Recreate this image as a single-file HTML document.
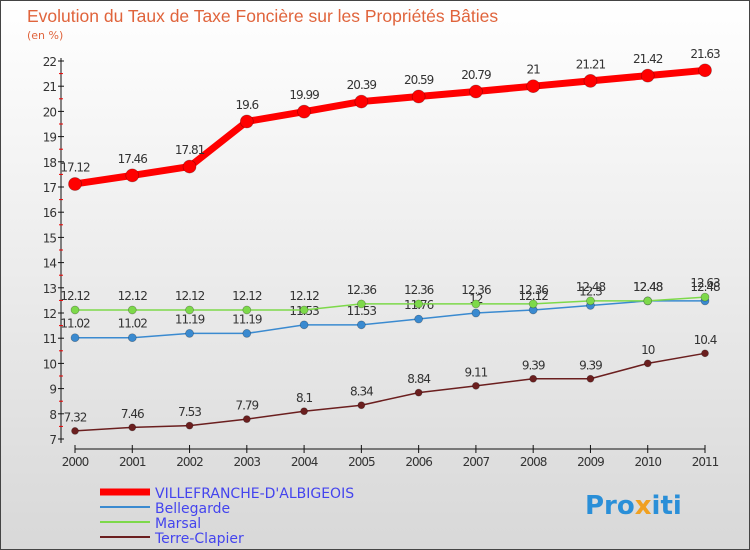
<!DOCTYPE html>
<html><head><meta charset="utf-8"><style>
body{margin:0}
#c{width:750px;height:550px;position:relative;overflow:hidden;font-family:"DejaVu Sans","Liberation Sans",sans-serif}
</style></head><body>
<div id="c">
<svg id="s" width="750" height="550" xmlns="http://www.w3.org/2000/svg">
<defs><linearGradient id="bg" x1="0" y1="0" x2="0" y2="1"><stop offset="0" stop-color="#ffffff"/><stop offset="1" stop-color="#d8d8d8"/></linearGradient></defs>
<rect x="0.5" y="0.5" width="749" height="549" fill="url(#bg)" stroke="#444"/>
<text x="27" y="22" font-size="17.5" fill="#e0643c" font-family="Liberation Sans, sans-serif">Evolution du Taux de Taxe Foncière sur les Propriétés Bâties</text>
<text x="27" y="39" font-size="11" fill="#e0643c">(en %)</text>
<g id="axes"></g><g id="series"></g>
<g>
<line x1="100" y1="492" x2="150" y2="492" stroke="#f00" stroke-width="7"/>
<text x="155" y="498" font-size="14" fill="#4444ee">VILLEFRANCHE-D'ALBIGEOIS</text>
<line x1="100" y1="507" x2="150" y2="507" stroke="#3a8ad0" stroke-width="2"/>
<text x="155" y="513" font-size="14" fill="#4444ee">Bellegarde</text>
<line x1="100" y1="522" x2="150" y2="522" stroke="#7dd94a" stroke-width="2"/>
<text x="155" y="528" font-size="14" fill="#4444ee">Marsal</text>
<line x1="100" y1="537" x2="150" y2="537" stroke="#6b1f1f" stroke-width="2"/>
<text x="155" y="543" font-size="14" fill="#4444ee">Terre-Clapier</text>
</g>
<text x="585" y="514" font-size="26" font-weight="bold" fill="#2a8fd8">Pro<tspan fill="#f0a020">x</tspan>iti</text>
</svg>
<script>
const years=[2000,2001,2002,2003,2004,2005,2006,2007,2008,2009,2010,2011];
const villefranche=[17.12,17.46,17.81,19.6,19.99,20.39,20.59,20.79,21,21.21,21.42,21.63];
const bellegarde=[11.02,11.02,11.19,11.19,11.53,11.53,11.76,12,12.12,12.3,12.48,12.48];
const marsal=[12.12,12.12,12.12,12.12,12.12,12.36,12.36,12.36,12.36,12.48,12.48,12.63];
const terreClapier=[7.32,7.46,7.53,7.79,8.1,8.34,8.84,9.11,9.39,9.39,10,10.4];
const yTicks=[7,8,9,10,11,12,13,14,15,16,17,18,19,20,21,22];
const NS="http://www.w3.org/2000/svg";
const xs=i=>75+i*(630/11);
const ys=v=>439-(v-7)*(378/15);
function mk(tag,attrs,parent){const e=document.createElementNS(NS,tag);for(const k in attrs)e.setAttribute(k,attrs[k]);parent.appendChild(e);return e;}
const ax=document.getElementById('axes');
let a=mk('line',{x1:61,y1:58,x2:61,y2:443,stroke:'#111'},ax);


yTicks.forEach(t=>{
 mk('line',{x1:58,x2:64,y1:ys(t),y2:ys(t),stroke:'#111'},ax);
 if(t<22)mk('line',{x1:59,x2:63,y1:ys(t+0.5),y2:ys(t+0.5),stroke:'#e00'},ax);
 const tx=mk('text',{x:56,y:ys(t)+5,'font-size':12,'text-anchor':'end',fill:'#333','letter-spacing':'-1'},ax);
 tx.textContent=t;
 
 
});
a=mk('line',{x1:75,y1:449,x2:705,y2:449,stroke:'#111'},ax);


years.forEach((y,i)=>{
 mk('line',{x1:xs(i),x2:xs(i),y1:445,y2:453,stroke:'#111'},ax);
 const tx=mk('text',{x:xs(i),y:466,'font-size':12,'text-anchor':'middle',fill:'#333','letter-spacing':'-1'},ax);
 tx.textContent=y;
 
 
});
const sg=document.getElementById('series');
function draw(vals,color,w,r,name){
 const g=mk('g',{},sg);
 
 
 mk('polyline',{points:vals.map((v,i)=>xs(i)+','+ys(v)).join(' '),fill:'none',stroke:color,'stroke-width':w,'stroke-linejoin':'round'},g);
 vals.forEach((v,i)=>{
  const c=mk('circle',{cx:xs(i),cy:ys(v),r:r,fill:color,stroke:'rgba(0,0,0,0.3)','stroke-width':0.7},g);
  
  
  const t=mk('text',{x:xs(i),y:ys(v)-(r+6),'font-size':12,'text-anchor':'middle',fill:'#333','letter-spacing':'-1'},g);
  t.textContent=v;
  
  
 });
}
draw(terreClapier,'#6b1f1f',1.5,3.5,'terre-clapier-series');
draw(bellegarde,'#3a8ad0',1.5,4,'bellegarde-series');
draw(marsal,'#7dd94a',1.5,4,'marsal-series');
draw(villefranche,'#f00',7,6.5,'villefranche-series');
</script>
</div>
</body></html>
